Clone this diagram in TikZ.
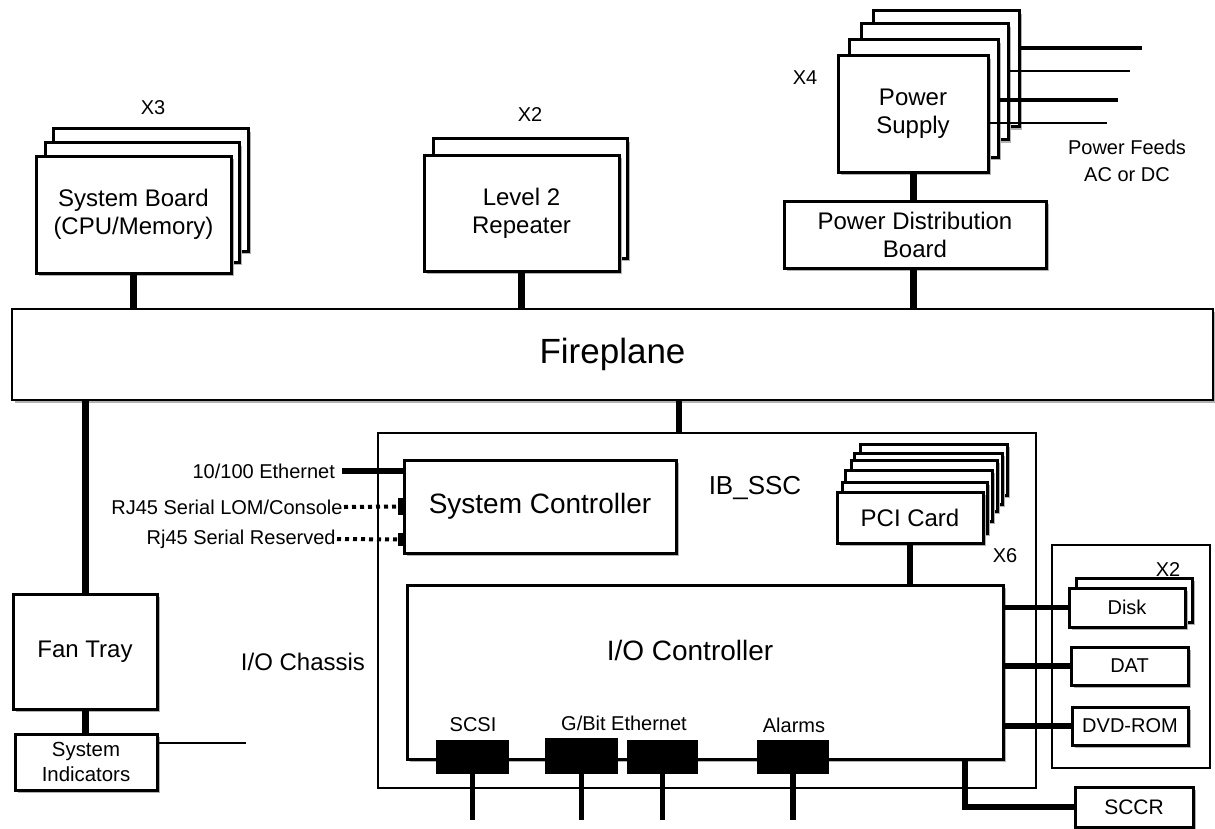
\documentclass[tikz,border=0pt]{standalone}
\usepackage{fontspec}
\setmainfont{Liberation Sans}
\usetikzlibrary{shadows}
\tikzset{
  bx/.style={draw, line width=1.5pt, fill=white, inner sep=0pt, outer sep=0pt, align=center,
    font=\fontsize{12}{14}\selectfont,
    drop shadow={shadow xshift=1.5pt, shadow yshift=-1.5pt, fill=gray!60, opacity=1}},
  frame/.style={draw, line width=1.3pt, inner sep=0pt, outer sep=0pt},
  port/.style={draw, fill=black, line width=0.6pt, inner sep=0pt, outer sep=0pt},
  plug/.style={fill=black, inner sep=0pt, outer sep=0pt},
  small/.style={font=\fontsize{10}{12.5}\selectfont, align=center},
  med/.style={font=\fontsize{12}{14}\selectfont, align=center},
  big/.style={font=\fontsize{14}{16}\selectfont},
  conn/.style={line width=3.5pt},
  conntwo/.style={line width=2.6pt},
  feedthick/.style={line width=2pt},
  feedthin/.style={line width=0.8pt},
  dotline/.style={line width=2pt, dash pattern=on 2pt off 2pt},
}
\newcommand{\boxnode}[7]{\node[#1, anchor=north west, minimum width={(#5-#3)*0.5pt}, minimum height={(#6-#4)*0.5pt}] (#2) at (#3,#4) {#7};}
\begin{document}
\begin{tikzpicture}[x=0.5pt,y=-0.5pt]
\useasboundingbox (0,0) rectangle (1215,829);

% System boards
\boxnode{bx}{sbc}{53}{129}{248}{251}{}
\boxnode{bx}{sbb}{45}{143}{239}{262}{}
\boxnode{bx}{sb}{36}{156}{231}{273}{System Board\\(CPU/Memory)}
\node[small] (xthree) at (153,108) {X3};

% Level 2 repeater
\boxnode{bx}{lrb}{433}{139}{627}{258}{}
\boxnode{bx}{lr}{424}{155}{619}{271}{Level 2\\Repeater}
\node[small] (xtwoa) at (530,115) {X2};

% Power supplies
\boxnode{bx}{psd}{873}{11}{1019}{127}{}
\boxnode{bx}{psc}{861}{24}{1008}{140}{}
\boxnode{bx}{psb}{849}{40}{998}{157}{}
\boxnode{bx}{ps}{838}{56}{988}{172}{Power\\Supply}
\node[small] (xfour) at (805,78) {X4};
\boxnode{bx}{pdb}{784}{201}{1046}{268}{Power Distribution\\Board}
\node[small, font=\fontsize{10}{13.5}\selectfont] (feeds) at (1127,161) {Power Feeds\\AC or DC};

% power feed lines
\coordinate (fa) at (1142,48);
\coordinate (fb) at (1130,71);
\coordinate (fc) at (1118,100);
\coordinate (fd) at (1107,123);
\draw[feedthick] (fa -| psd.east) -- (fa);
\draw[feedthin] (fb -| psc.east) -- (fb);
\draw[feedthick] (fc -| psb.east) -- (fc);
\draw[feedthin] (fd -| ps.east) -- (fd);

% Fireplane
\boxnode{bx, line width=1.3pt, font=\fontsize{17.5}{20}\selectfont}{fp}{12}{309}{1213}{400}{Fireplane}

% Fan tray and indicators
\boxnode{bx}{ft}{13}{594}{157}{709}{Fan Tray}
\boxnode{bx, font=\fontsize{10.2}{12.5}\selectfont}{si}{15}{734}{157}{790}{System\\Indicators}
\coordinate (sil) at (246,743);
\draw[feedthin] (sil -| si.east) -- (sil);

% I/O chassis
\boxnode{frame}{ch}{378}{433}{1036}{788}{}
\node[med] (ioch) at (303,662) {I/O Chassis};
\node[font=\fontsize{13}{15}\selectfont] (ibssc) at (755,488) {IB\_SSC};

% System controller
\boxnode{bx, font=\fontsize{14}{16}\selectfont}{sc}{404}{460}{676}{553}{System Controller}

% PCI cards
\boxnode{bx}{pcf}{860}{444}{1007}{495}{}
\boxnode{bx}{pce}{854}{453}{1002}{504}{}
\boxnode{bx}{pcd}{851}{460}{997}{511}{}
\boxnode{bx}{pcc}{845}{470}{992}{521}{}
\boxnode{bx}{pcb}{842}{482}{987}{533}{}
\boxnode{bx}{pc}{837}{492}{983}{543}{PCI Card}
\node[small] (xsix) at (1005,556) {X6};

% I/O controller
\boxnode{bx}{ioc}{407}{585}{1003}{759}{}
\node[big] (iocl) at (690,650) {I/O Controller};

% drive enclosure
\boxnode{frame}{enc}{1052}{545}{1210}{768}{}
\node[small] (xtwob) at (1168,570) {X2};
\boxnode{bx, font=\fontsize{10}{12}\selectfont}{diskb}{1076}{578}{1192}{622}{}
\boxnode{bx, font=\fontsize{10}{12}\selectfont}{disk}{1069}{588}{1185}{627}{Disk}
\boxnode{bx, font=\fontsize{10}{12}\selectfont}{dat}{1071}{647}{1188}{685}{DAT}
\boxnode{bx, font=\fontsize{10}{12}\selectfont}{dvd}{1072}{707}{1188}{745}{DVD-ROM}
\boxnode{bx, font=\fontsize{10.5}{12}\selectfont}{sccr}{1075}{787}{1193}{827}{SCCR}

% ports
\boxnode{port}{scsi}{437}{741}{508}{773}{}
\boxnode{port}{gba}{546}{739}{617}{773}{}
\boxnode{port}{gbb}{628}{741}{697}{773}{}
\boxnode{port}{alm}{758}{741}{828}{773}{}
\node[small] (scsil) at (473,725) {SCSI};
\node[small] (gbl) at (624,723) {G/Bit Ethernet};
\node[small] (alml) at (794,725) {Alarms};
\coordinate (bot) at (0,820);
\draw[conntwo] (scsi.south) -- (scsi.south |- bot);
\draw[conntwo] (gba.south) -- (gba.south |- bot);
\draw[conntwo] (gbb.south) -- (gbb.south |- bot);
\draw[conntwo] (alm.south) -- (alm.south |- bot);

% system controller external links
\node[small, anchor=east] (eth) at (342,471) {10/100 Ethernet};
\draw[line width=3pt] (eth.east) -- (eth.east -| sc.west);
\node[plug, minimum width=3pt, minimum height=8.5pt] (pla) at (401,506.5) {};
\node[plug, minimum width=3pt, minimum height=6.5pt] (plb) at (401,539.5) {};
\node[small, anchor=east, inner xsep=0.5pt] (lom) at (344,507) {RJ45 Serial LOM/Console};
\node[small, anchor=east, inner xsep=0.5pt] (res) at (337,539) {Rj45 Serial Reserved};
\draw[dotline] (lom.east) -- (pla.west);
\draw[dotline] (res.east) -- (plb.west);

% connectors
\draw[conn] (sb.south) -- (fp.north -| sb.south);
\draw[conn] (lr.south) -- (fp.north -| lr.south);
\draw[conn] (ps.south) -- (pdb.north -| ps.south);
\draw[conn] (pdb.south -| ps.south) -- (fp.north -| ps.south);
\draw[conn] (fp.south -| ft.north) -- (ft.north);
\draw[conn] (ft.south) -- (si.north -| ft.south);
\coordinate (chx) at (679,0);
\draw[conntwo] (fp.south -| chx) -- (ch.north -| chx);
\draw[conntwo] (pc.south) -- (ioc.north -| pc.south);
\draw[conntwo] (disk.west -| ioc.east) -- (disk.west);
\draw[conntwo] (dat.west -| ioc.east) -- (dat.west);
\draw[conntwo] (dvd.west -| ioc.east) -- (dvd.west);
\coordinate (scx) at (965,0);
\draw[conntwo] (ioc.south -| scx) |- (sccr.west);
\end{tikzpicture}
\end{document}
